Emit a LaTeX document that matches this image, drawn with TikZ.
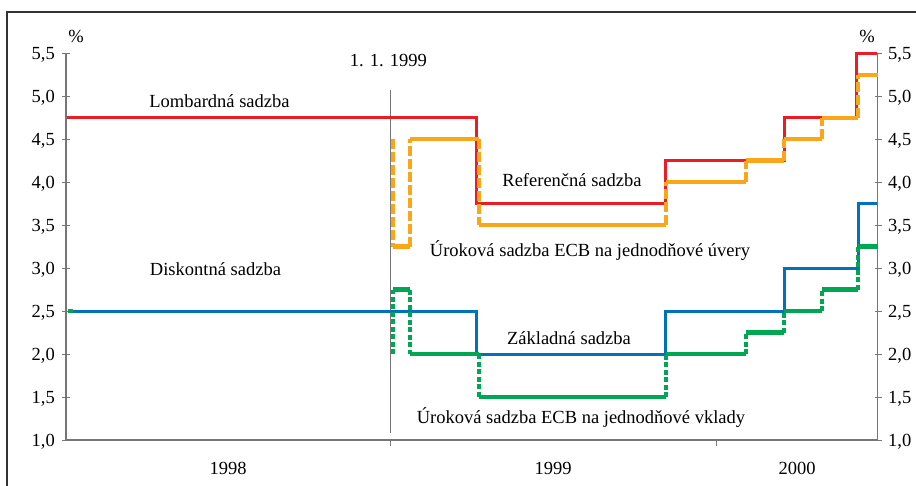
\documentclass[tikz,border=0pt]{standalone}
\usepackage{fontspec}
\setmainfont{Liberation Serif}
\usepackage{xcolor}
\usepackage{tikz}
\usetikzlibrary{positioning}
\definecolor{lineLombard}{RGB}{237,28,36}
\definecolor{lineLending}{RGB}{250,166,26}
\definecolor{lineDiscount}{RGB}{0,114,188}
\definecolor{lineDeposit}{RGB}{0,166,81}
\definecolor{axisGray}{RGB}{118,118,118}
\tikzset{
  chartLabel/.style={font=\fontsize{18.5}{22}\selectfont, inner sep=0pt, text=black},
  frameLine/.style={draw=black!80, line width=1.3pt},
  axisLine/.style={draw=axisGray, line width=1.4pt},
  tickMark/.style={draw=axisGray, line width=1pt},
  markerLine/.style={draw=axisGray, line width=0.8pt},
  lombardRate/.style={draw=lineLombard, line width=3pt},
  discountRate/.style={draw=lineDiscount, line width=3pt},
  lendingRate/.style={draw=lineLending, line width=4.5pt},
  lendingStep/.style={lendingRate, dash pattern=on 10pt off 3pt},
  depositRate/.style={draw=lineDeposit, line width=4.5pt},
  depositStep/.style={depositRate, dash pattern=on 5pt off 2.5pt}
}

\begin{document}
\begin{tikzpicture}[x=1pt, y=-1pt]
  \useasboundingbox (0,0) rectangle (916,485);
  \clip (0,0) rectangle (916,485);
  \draw[frameLine] (7,12) rectangle (940,510);

  \draw[axisLine] (66,53.3) -- (66,440) -- (877.7,440) -- (877.7,53.3);
  \foreach \val/\txt [count=\i] in {1.0/{1,0}, 1.5/{1,5}, 2.0/{2,0}, 2.5/{2,5}, 3.0/{3,0}, 3.5/{3,5}, 4.0/{4,0}, 4.5/{4,5}, 5.0/{5,0}, 5.5/{5,5}} {
    \pgfmathsetmacro\ty{440-(\val-1)*85.93}
    \draw[tickMark] (62,\ty) -- (70,\ty);
    \draw[tickMark] (875,\ty) -- (882,\ty);
    \node[chartLabel, anchor=base east] (yl\i) at (55,\ty+6.2) {\txt};
    \node[chartLabel, anchor=base west] (yr\i) at (888,\ty+6.2) {\txt};
  }
  \foreach \x in {390,716} \draw[tickMark] (\x,440) -- (\x,446);

  \node[chartLabel] (pctLeft) at (76,36) {\%};
  \node[chartLabel] (pctRight) at (867,36) {\%};
  \node[chartLabel, anchor=base] (y1998) at (228,474) {1998};
  \node[chartLabel, anchor=base] (y1999) at (553,474) {1999};
  \node[chartLabel, anchor=base] (y2000) at (797,474) {2000};

  \node[chartLabel, anchor=base] (newYear) at (388.3,66) {1. 1. 1999};
  \draw[markerLine] (390,90) -- (390,433);

  \node[chartLabel, anchor=base] (lombard) at (219.5,107.7) {Lombardná sadzba};
  \node[chartLabel, anchor=base] (reference) at (572,186) {Referenčná sadzba};
  \node[chartLabel, anchor=base] (lending) at (590,256.7) {Úroková sadzba ECB na jednodňové úvery};
  \node[chartLabel, anchor=base] (discount) at (215.5,275) {Diskontná sadzba};
  \node[chartLabel, anchor=base] (base) at (569,344) {Základná sadzba};
  \node[chartLabel, anchor=base] (deposit) at (581,423) {Úroková sadzba ECB na jednodňové vklady};

  \begin{scope}[shift={(390,525.93)}, x=27.1pt, y=85.93pt]
    \draw[lombardRate] (-11.92,4.75) -| (3.21,3.75) -| (10.15,4.25) -| (14.54,4.75) -| (17.23,5.5) -- (17.97,5.5);
    \foreach \m/\a/\b in {0.11/4.5/3.25, 0.74/3.25/4.5, 3.28/4.5/3.5, 10.18/3.5/4.0, 13.14/4.0/4.25, 14.54/4.25/4.5, 15.94/4.5/4.75, 17.27/4.75/5.25}
      \draw[lendingStep] (\m,\a) -- (\m,\b);
    \foreach \a/\b/\v in {0.11/0.74/3.25, 0.74/3.28/4.5, 3.28/10.18/3.5, 10.18/13.14/4.0, 13.14/14.54/4.25, 14.54/15.94/4.5, 15.94/17.27/4.75, 17.27/18.0/5.25}
      \draw[lendingRate] (\a,\v) -- (\b,\v);

    \draw[discountRate] (-11.7,2.5) -| (3.21,2.0) -| (10.15,2.5) -| (14.54,3.0) -| (17.27,3.75) -- (17.97,3.75);
    \foreach \m/\a/\b in {0.11/2.0/2.75, 0.74/2.75/2.0, 3.28/2.0/1.5, 10.18/1.5/2.0, 13.14/2.0/2.25, 14.54/2.25/2.5, 15.94/2.5/2.75, 17.27/2.75/3.25}
      \draw[depositStep] (\m,\a) -- (\m,\b);
    \foreach \a/\b/\v in {-11.9/-11.7/2.5, 0.11/0.74/2.75, 0.74/3.28/2.0, 3.28/10.18/1.5, 10.18/13.14/2.0, 13.14/14.54/2.25, 14.54/15.94/2.5, 15.94/17.27/2.75, 17.27/18.0/3.25}
      \draw[depositRate] (\a,\v) -- (\b,\v);
  \end{scope}
\end{tikzpicture}
\end{document}
